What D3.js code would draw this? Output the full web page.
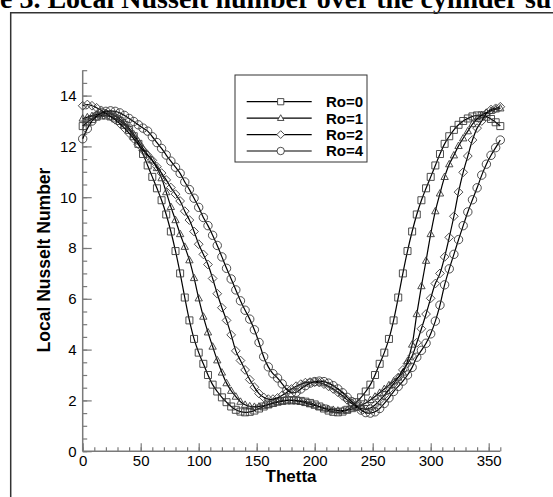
<!DOCTYPE html>
<html><head><meta charset="utf-8">
<script src="https://cdn.jsdelivr.net/npm/d3@7"></script>
<style>
html,body{margin:0;padding:0;background:#fff;}
svg{display:block;}
text{font-family:"Liberation Sans",Arial,sans-serif;}
</style></head>
<body>
<script>
const theta = [0,4,8,12,16,20,24,28,32,36,40,44,48,52,56,60,64,68,72,76,80,84,88,92,96,100,104,108,112,116,120,124,128,132,136,140,144,148,152,156,160,164,168,172,176,180,184,188,192,196,200,204,208,212,216,220,224,228,232,236,240,244,248,252,256,260,264,268,272,276,280,284,288,292,296,300,304,308,312,316,320,324,328,332,336,340,344,348,352,356,360];

const ro0 = [12.8,12.95,13.08,13.17,13.22,13.22,13.18,13.1,13.0,12.85,12.65,12.4,12.1,11.7,11.25,10.8,10.35,9.88,9.32,8.65,7.88,7.0,6.05,5.15,4.42,3.88,3.44,3.0,2.62,2.35,2.12,1.93,1.76,1.63,1.56,1.53,1.55,1.6,1.68,1.76,1.84,1.9,1.95,1.98,2.0,2.0,2.0,1.98,1.95,1.9,1.84,1.76,1.68,1.6,1.55,1.53,1.56,1.63,1.76,1.93,2.12,2.35,2.62,3.0,3.44,3.88,4.42,5.15,6.05,7.0,7.88,8.65,9.32,9.88,10.35,10.8,11.25,11.7,12.1,12.4,12.65,12.85,13.0,13.1,13.18,13.22,13.22,13.17,13.08,12.95,12.8];

const ro1 = [13.1,13.15,13.2,13.25,13.28,13.3,13.28,13.2,13.08,12.92,12.72,12.48,12.2,11.92,11.68,11.45,11.15,10.75,10.2,9.62,9.1,8.55,8.05,7.52,6.82,6.02,5.3,4.68,4.12,3.58,3.1,2.68,2.38,2.15,1.95,1.83,1.77,1.75,1.76,1.79,1.83,1.88,1.93,1.97,2.0,2.0,1.98,1.95,1.9,1.85,1.8,1.75,1.7,1.66,1.63,1.6,1.6,1.62,1.66,1.72,1.8,1.9,2.02,2.15,2.3,2.45,2.6,2.75,2.9,3.1,3.55,4.2,5.4,6.5,7.5,8.55,9.45,10.15,10.8,11.3,11.65,12.02,12.32,12.6,12.88,13.08,13.24,13.33,13.4,13.46,13.5];

const ro2 = [13.6,13.65,13.6,13.52,13.42,13.3,13.18,13.05,12.9,12.72,12.52,12.3,12.08,11.85,11.65,11.45,11.2,10.95,10.68,10.38,10.12,9.85,9.45,9.1,8.65,8.15,7.75,7.35,6.8,6.2,5.65,5.15,4.58,3.95,3.57,3.2,2.82,2.52,2.27,2.12,2.05,2.05,2.1,2.2,2.32,2.45,2.56,2.64,2.7,2.72,2.72,2.7,2.64,2.55,2.45,2.32,2.18,2.02,1.88,1.76,1.68,1.65,1.7,1.82,2.0,2.2,2.42,2.65,2.9,3.2,3.45,3.75,4.27,4.82,5.4,6.02,6.6,7.0,7.65,8.42,9.25,10.2,10.98,11.62,12.25,12.72,13.0,13.3,13.45,13.5,13.56];

const ro4 = [12.3,12.7,13.0,13.2,13.32,13.38,13.4,13.38,13.32,13.22,13.1,12.98,12.85,12.72,12.6,12.38,12.15,11.92,11.66,11.42,11.18,10.94,10.6,10.3,9.96,9.6,9.2,8.88,8.5,8.1,7.65,7.2,6.78,6.35,5.92,5.55,5.2,4.78,4.28,3.72,3.32,3.05,2.88,2.65,2.42,2.3,2.32,2.45,2.58,2.68,2.74,2.76,2.74,2.68,2.58,2.45,2.3,2.12,1.95,1.78,1.62,1.52,1.5,1.55,1.68,1.88,2.1,2.35,2.55,2.76,3.0,3.3,3.7,3.97,4.25,4.62,5.12,5.75,6.55,7.18,7.75,8.33,8.88,9.42,9.9,10.37,10.87,11.3,11.65,11.95,12.25];

const seriesNames = ["Ro=0","Ro=1","Ro=2","Ro=4"];
const seriesMarkers = ["square","triangle","diamond","circle"];
const xTickValues = [0,50,100,150,200,250,300,350];
const yTickValues = [0,2,4,6,8,10,12,14];
const xLabel = "Thetta";
const yLabel = "Local Nusselt Number";
const titleText = "e 3. Local Nusselt number over the cylinder su";

const allSeries = [ro0, ro1, ro2, ro4];

const W = 553, H = 497;
const svg = d3.select("body").append("svg").attr("width", W).attr("height", H);

// title (cropped, as in the source page) and page frame
svg.append("text").attr("x", 0).attr("y", 8)
  .style("font-family", "'Liberation Serif','Times New Roman',serif")
  .style("font-weight", "bold").style("font-size", "28px")
  .attr("fill", "#000").text(titleText);
svg.append("path").attr("d", "M10.7,497 V12.7 H553")
  .attr("fill", "none").attr("stroke", "#333").attr("stroke-width", 1.5);

const x = d3.scaleLinear().domain([0, 360]).range([82.7, 500.3]);
const y = d3.scaleLinear().domain([0, 15]).range([451.2, 70.2]);

const axisColor = "#7a7a7a";

// x axis
const gx = svg.append("g").attr("transform", `translate(0,${y(0)})`);
gx.call(d3.axisBottom(x).tickValues(d3.range(0, 361, 10)).tickSize(-4).tickFormat(""));
gx.call(g => g.select(".domain").remove());
const gx2 = svg.append("g").attr("transform", `translate(0,${y(0)})`);
gx2.call(d3.axisBottom(x).tickValues(xTickValues).tickSize(-8).tickPadding(4).tickFormat(d3.format("d")));
gx2.selectAll("text").attr("y", 14.5).attr("dy", 0).style("font-size", "15px").attr("fill", "#000");
gx2.select(".domain").attr("stroke", axisColor).attr("stroke-width", 1.5).attr("d", `M${x(0)},0H${x(360)}`);

// y axis
const gy = svg.append("g").attr("transform", `translate(${x(0)},0)`);
gy.call(d3.axisLeft(y).tickValues(d3.range(0, 15.01, 0.5)).tickSize(-4.5).tickFormat(""));
gy.call(g => g.select(".domain").remove());
const gy2 = svg.append("g").attr("transform", `translate(${x(0)},0)`);
gy2.call(d3.axisLeft(y).tickValues(yTickValues).tickSize(-9).tickPadding(6).tickFormat(d3.format("d")));
gy2.selectAll("text").attr("x", -6).style("font-size", "15px").attr("fill", "#000");
gy2.select(".domain").attr("stroke", axisColor).attr("stroke-width", 1.5).attr("d", `M0,${y(0)}V${y(15)}`);
svg.selectAll("g .tick line").attr("stroke", axisColor).attr("stroke-width", 1.2);

// axis titles
svg.append("text").attr("x", 291).attr("y", 482).attr("text-anchor", "middle")
  .style("font-weight", "bold").style("font-size", "17px").text(xLabel);
svg.append("text").attr("transform", "translate(50,260) rotate(-90)").attr("text-anchor", "middle")
  .style("font-weight", "bold").style("font-size", "17.5px").text(yLabel);

// marker shapes
function markerPath(type, s) {
  if (type === "square") return `M${-s},${-s}h${2*s}v${2*s}h${-2*s}Z`;
  if (type === "triangle") return `M0,${-s*1.1}L${s*1.05},${s*0.75}L${-s*1.05},${s*0.75}Z`;
  if (type === "diamond") return `M0,${-s*1.25}L${s*1.25},0L0,${s*1.25}L${-s*1.25},0Z`;
  return d3.arc()({innerRadius: 0, outerRadius: s*1.2, startAngle: 0, endAngle: 2*Math.PI});
}
const markerSize = 3.5;

const line = d3.line().x((d, i) => x(theta[i])).y(d => y(d)).curve(d3.curveCatmullRom);

allSeries.forEach((vals, k) => {
  const g = svg.append("g");
  g.append("path").attr("d", line(vals)).attr("fill", "none").attr("stroke", "#000").attr("stroke-width", 1.2);
  g.selectAll("path.m").data(vals).join("path").attr("class", "m")
    .attr("transform", (d, i) => `translate(${x(theta[i])},${y(d)})`)
    .attr("d", markerPath(seriesMarkers[k], markerSize))
    .attr("fill", "none").attr("stroke", "#3a3a3a").attr("stroke-width", 0.9);
});

// legend
const lg = svg.append("g");
lg.append("rect").attr("x", 235).attr("y", 75).attr("width", 132).attr("height", 87)
  .attr("fill", "#fff").attr("stroke", "#333").attr("stroke-width", 1);
const rowY = d3.scalePoint().domain(seriesNames).range([101.7, 151]);
seriesNames.forEach((name, k) => {
  const yy = rowY(name);
  lg.append("line").attr("x1", 246.7).attr("x2", 311.7).attr("y1", yy).attr("y2", yy)
    .attr("stroke", "#000").attr("stroke-width", 1.2);
  lg.append("path").attr("transform", `translate(280.7,${yy})`).attr("d", markerPath(seriesMarkers[k], 3.1))
    .attr("fill", "#fff").attr("stroke", "#3a3a3a").attr("stroke-width", 0.9);
  lg.append("text").attr("x", 326).attr("y", yy).attr("dy", "0.36em")
    .style("font-weight", "bold").style("font-size", "15px").text(name);
});
</script>
</body></html>
